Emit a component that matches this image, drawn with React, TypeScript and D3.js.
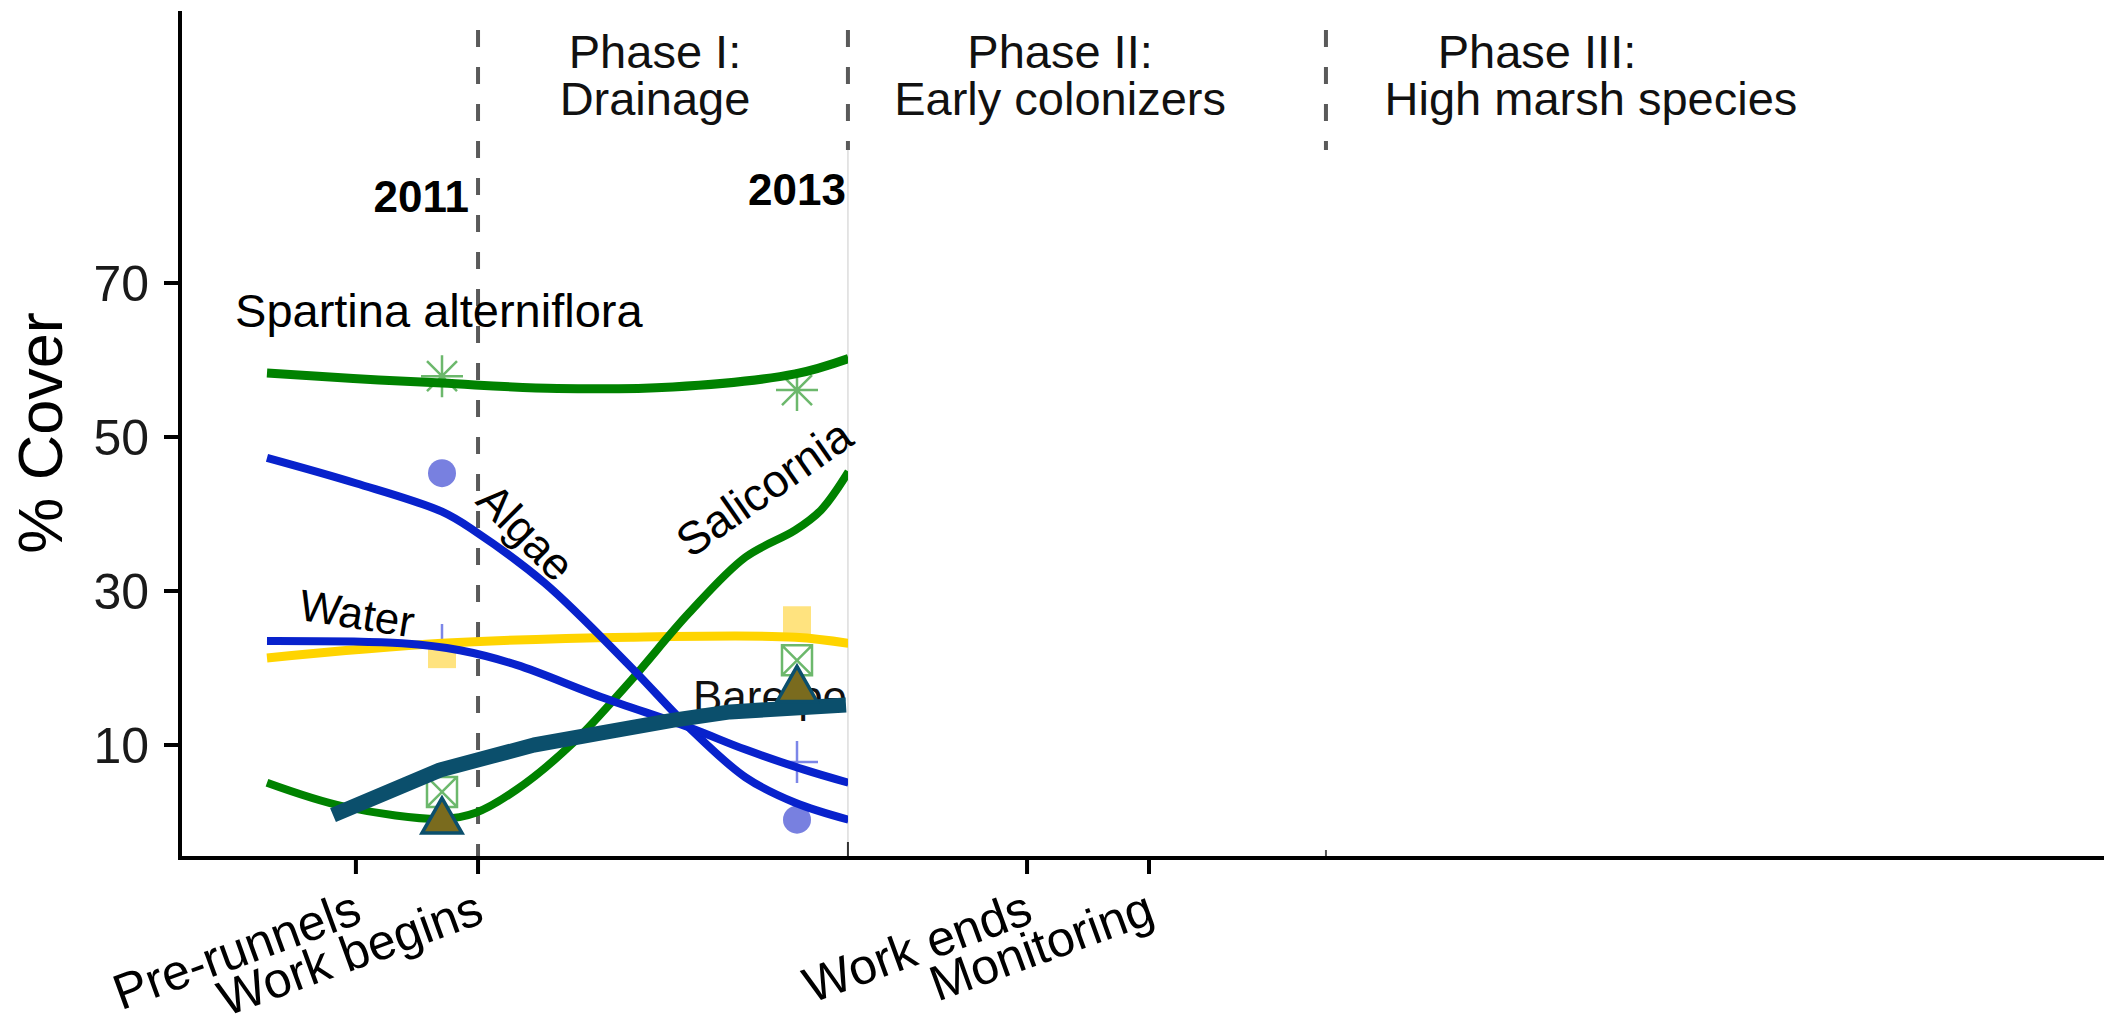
import React from "react";
import * as d3 from "d3";

// ---------- data ----------
const xTickLabels = ["Pre-runnels", "Work begins", "Work ends", "Monitoring"];
const xTickValues = [2010.515, 2011.203, 2014.296, 2014.983];
const phaseLineValues = [2011.203, 2013.287, 2015.98];
const yTicks = [10, 30, 50, 70];

const spartinaCurve: [number, number][] = [
  [2010.014, 58.3], [2010.5, 57.6], [2011.0, 57.0], [2011.65, 56.3],
  [2012.3, 56.5], [2012.99, 58.2], [2013.29, 60.2],
];
const algaeCurve: [number, number][] = [
  [2010.014, 47.3], [2010.515, 44.0], [2011.0, 40.3], [2011.19, 37.7],
  [2011.58, 31.0], [2012.065, 20.1], [2012.39, 12.3], [2012.71, 5.8],
  [2012.99, 2.5], [2013.29, 0.3],
];
const waterCurve: [number, number][] = [
  [2010.014, 23.5], [2010.775, 23.2], [2011.1, 22.3], [2011.42, 20.4],
  [2011.9, 16.2], [2012.39, 12.3], [2012.71, 9.4], [2013.04, 6.8], [2013.29, 5.1],
];
const otherCurve: [number, number][] = [
  [2010.014, 21.3], [2011.0, 23.2], [2012.065, 24.0], [2012.99, 24.0], [2013.29, 23.2],
];
const salicorniaCurve: [number, number][] = [
  [2010.014, 5.1], [2010.45, 2.0], [2011.0, 0.4], [2011.19, 1.2], [2011.42, 4.2],
  [2011.74, 10.3], [2012.065, 18.4], [2012.39, 27.1], [2012.71, 34.4],
  [2012.99, 37.9], [2013.135, 40.5], [2013.29, 45.5],
];
const barePeatCurve: [number, number][] = [
  [2010.386, 0.9], [2010.989, 6.75], [2011.518, 10.0], [2011.907, 11.6],
  [2012.296, 13.2], [2012.623, 14.3], [2013.276, 15.2],
];

const spartinaPts: [number, number][] = [[2011, 57.9], [2013, 56.1]];
const algaePts: [number, number][] = [[2011, 45.3], [2013, 0.3]];
const waterPts: [number, number][] = [[2011, 23.0], [2013, 7.8]];
const otherPts: [number, number][] = [[2011, 21.8], [2013, 26.2]];
const salicorniaPts: [number, number][] = [[2011, 3.9], [2013, 21.0]];
const barePeatPts: [number, number][] = [[2011, 0.9], [2013, 18.0]];

const yearLabels = ["2011", "2013"];
const yearLabelX = [2011.152, 2013.276];
const yearLabelY = [79.2, 80.1];

const phaseTitles = ["Phase I:", "Phase II:", "Phase III:"];
const phaseSubtitles = ["Drainage", "Early colonizers", "High marsh species"];
const phaseTitleX = [2012.2, 2014.482, 2017.169];
const phaseSubX = [2012.2, 2014.482, 2017.473];

// ---------- layout ----------
const W = 2104;
const H = 1021;
const FONT = "'Liberation Sans', Arial, Helvetica, sans-serif";

const x = d3.scaleLinear().domain([2011, 2013]).range([442, 797]);
const y = d3.scaleLinear().domain([10, 70]).range([745, 283]);

const AXIS_X = 180;
const AXIS_Y = 858;
const CLIP_X = x(2013.287);

const GREEN = "#008200";
const BLUE = "#0822CC";
const GOLD = "#FFD400";
const TEAL = "#0B4F6C";

export default function App() {
  const smooth = d3
    .line<[number, number]>()
    .x((d) => x(d[0]))
    .y((d) => y(d[1]))
    .curve(d3.curveCatmullRom.alpha(0.5));
  const straight = d3
    .line<[number, number]>()
    .x((d) => x(d[0]))
    .y((d) => y(d[1]));

  const asterisk = (cx: number, cy: number) =>
    `M${cx - 21},${cy}H${cx + 21}M${cx},${cy - 21}V${cy + 21}` +
    `M${cx - 15},${cy - 15}L${cx + 15},${cy + 15}M${cx - 15},${cy + 15}L${cx + 15},${cy - 15}`;
  const plus = (cx: number, cy: number) =>
    `M${cx - 21},${cy}H${cx + 21}M${cx},${cy - 21}V${cy + 21}`;
  const boxX = (cx: number, cy: number) =>
    `M${cx - 15},${cy - 15}H${cx + 15}V${cy + 15}H${cx - 15}Z` +
    `M${cx - 15},${cy - 15}L${cx + 15},${cy + 15}M${cx - 15},${cy + 15}L${cx + 15},${cy - 15}`;
  const tri = (cx: number, cy: number) =>
    `M${cx},${cy - 17}L${cx + 20},${cy + 18}L${cx - 20},${cy + 18}Z`;

  return (
    <svg
      width={W}
      height={H}
      style={{ position: "absolute", left: 0, top: 0, background: "#fff" }}
      fontFamily={FONT}
    >
      <defs>
        <clipPath id="plotclip">
          <rect x={AXIS_X} y={0} width={CLIP_X - AXIS_X} height={AXIS_Y} />
        </clipPath>
      </defs>
      <rect x={0} y={0} width={W} height={H} fill="#fff" />

      {/* phase separators */}
      <line x1={x(phaseLineValues[0])} x2={x(phaseLineValues[0])} y1={30} y2={AXIS_Y}
        stroke="#5a5a5a" strokeWidth={4} strokeDasharray="17 20" />
      <line x1={x(phaseLineValues[1])} x2={x(phaseLineValues[1])} y1={30} y2={150}
        stroke="#5a5a5a" strokeWidth={4} strokeDasharray="17 20" />
      <line x1={x(phaseLineValues[1])} x2={x(phaseLineValues[1])} y1={150} y2={AXIS_Y}
        stroke="#dcdcdc" strokeWidth={1.5} />
      <line x1={x(phaseLineValues[1])} x2={x(phaseLineValues[1])} y1={AXIS_Y - 16} y2={AXIS_Y}
        stroke="#333" strokeWidth={2} />
      <line x1={x(phaseLineValues[2])} x2={x(phaseLineValues[2])} y1={30} y2={150}
        stroke="#5a5a5a" strokeWidth={4} strokeDasharray="17 20" />
      <line x1={x(phaseLineValues[2])} x2={x(phaseLineValues[2])} y1={AXIS_Y - 8} y2={AXIS_Y}
        stroke="#555" strokeWidth={2} />

      {/* phase titles */}
      {phaseTitles.map((t, i) => (
        <text key={t} x={x(phaseTitleX[i])} y={68} textAnchor="middle" fontSize={47} fill="#111">
          {t}
        </text>
      ))}
      {phaseSubtitles.map((t, i) => (
        <text key={t} x={x(phaseSubX[i])} y={115} textAnchor="middle" fontSize={47} fill="#111">
          {t}
        </text>
      ))}

      {/* year labels */}
      {yearLabels.map((t, i) => (
        <text key={t} x={x(yearLabelX[i])} y={y(yearLabelY[i])} textAnchor="end"
          fontSize={44} fontWeight="bold" fill="#000">
          {t}
        </text>
      ))}

      {/* data */}
      <g clipPath="url(#plotclip)">
        {/* light markers */}
        {spartinaPts.map((d, i) => (
          <path key={"sp" + i} d={asterisk(x(d[0]), y(d[1]))} stroke="#6cb86c" strokeWidth={2.5} fill="none" />
        ))}
        {algaePts.map((d, i) => (
          <ellipse key={"al" + i} cx={x(d[0])} cy={y(d[1])} rx={14} ry={14} fill="#7880E0" />
        ))}
        {waterPts.map((d, i) => (
          <path key={"wa" + i} d={plus(x(d[0]), y(d[1]))} stroke="#7C86E8" strokeWidth={2.5} fill="none" />
        ))}
        {otherPts.map((d, i) => (
          <rect key={"ot" + i} x={x(d[0]) - 14} y={y(d[1]) - 14} width={28} height={28} fill="#FFE37F" />
        ))}
        {salicorniaPts.map((d, i) => (
          <path key={"sa" + i} d={boxX(x(d[0]), y(d[1]))} stroke="#6cb86c" strokeWidth={2.5} fill="none" />
        ))}

        {/* smoothed curves */}
        <path d={smooth(otherCurve) || ""} stroke={GOLD} strokeWidth={9} fill="none" />
        <path d={smooth(spartinaCurve) || ""} stroke={GREEN} strokeWidth={9} fill="none" />
        <path d={smooth(salicorniaCurve) || ""} stroke={GREEN} strokeWidth={8} fill="none" />
        <path d={smooth(algaeCurve) || ""} stroke={BLUE} strokeWidth={8} fill="none" />
        <path d={smooth(waterCurve) || ""} stroke={BLUE} strokeWidth={8} fill="none" />

        {/* bare peat */}
        <text x={x(2012.414)} y={y(14.3)} fontSize={44} fill="#111">Bare peat</text>
        <path d={straight(barePeatCurve) || ""} stroke={TEAL} strokeWidth={15} fill="none"
          strokeLinejoin="round" strokeLinecap="butt" />
        {barePeatPts.map((d, i) => (
          <path key={"bp" + i} d={tri(x(d[0]), y(d[1]))} fill="#7a6b1e" stroke={TEAL} strokeWidth={3.5}
            strokeLinejoin="miter" />
        ))}
      </g>

      {/* curve labels */}
      <text x={x(2009.834)} y={y(64.3)} fontSize={47} fill="#000">Spartina alterniflora</text>
      <text x={x(2011.473)} y={y(37.66)} dy="0.35em" textAnchor="middle" fontSize={45} fill="#000"
        transform={`rotate(45 ${x(2011.473)} ${y(37.66)})`}>Algae</text>
      <text x={x(2012.814)} y={y(43.4)} dy="0.35em" textAnchor="middle" fontSize={46} fill="#000"
        transform={`rotate(-35 ${x(2012.814)} ${y(43.4)})`}>Salicornia</text>
      <text x={x(2010.521)} y={y(27.1)} dy="0.35em" textAnchor="middle" fontSize={44} fill="#000"
        transform={`rotate(9 ${x(2010.521)} ${y(27.1)})`}>Water</text>

      {/* axes */}
      <line x1={AXIS_X} x2={AXIS_X} y1={11} y2={AXIS_Y + 2} stroke="#000" strokeWidth={4} />
      <line x1={AXIS_X - 2} x2={W} y1={AXIS_Y} y2={AXIS_Y} stroke="#000" strokeWidth={4} />
      {yTicks.map((t) => (
        <g key={t}>
          <line x1={AXIS_X - 16} x2={AXIS_X} y1={y(t)} y2={y(t)} stroke="#000" strokeWidth={4} />
          <text x={149} y={y(t)} dy="0.36em" textAnchor="end" fontSize={50} fill="#1a1a1a">{t}</text>
        </g>
      ))}
      {xTickValues.map((v, i) => (
        <g key={xTickLabels[i]}>
          <line x1={x(v)} x2={x(v)} y1={AXIS_Y} y2={AXIS_Y + 16} stroke="#000" strokeWidth={4} />
          <text x={x(v) + 8} y={922} textAnchor="end" fontSize={50} fill="#000"
            transform={`rotate(-20 ${x(v) + 8} 922)`}>{xTickLabels[i]}</text>
        </g>
      ))}
      <text x={62} y={433} textAnchor="middle" fontSize={63} fill="#000"
        transform="rotate(-90 62 433)">% Cover</text>
    </svg>
  );
}
